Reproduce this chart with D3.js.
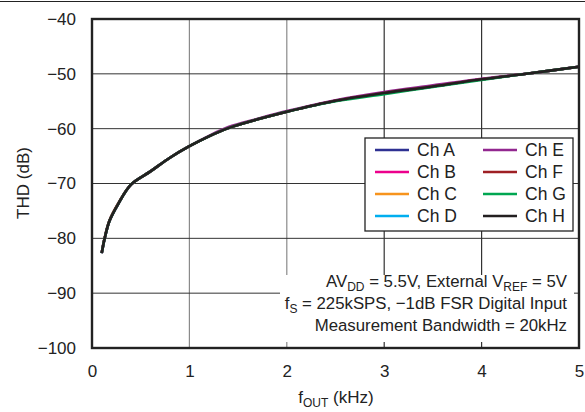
<!DOCTYPE html>
<html>
<head>
<meta charset="utf-8">
<script src="https://cdn.jsdelivr.net/npm/d3@7"></script>
<style>
  body { margin: 0; background: #fff; }
  text { font-family: "Liberation Sans", Arial, sans-serif; fill: #222; }
</style>
</head>
<body>
<svg id="chart" width="585" height="412"></svg>
<script>
// output frequency (kHz)
var freq = [0.1, 0.13, 0.18, 0.27, 0.4, 0.6, 0.8, 1.0, 1.2, 1.4, 1.7, 2.0, 2.5, 3.0, 3.5, 4.0, 4.5, 5.0];

// THD (dB) per channel, all almost on top of each other
var chA = [-82.7, -80.0, -76.8, -73.7, -70.2, -67.8, -65.3, -63.2, -61.4, -59.9, -58.3, -56.9, -54.9, -53.5, -52.3, -51.0, -49.9, -48.7];
var chB = [-82.7, -80.0, -76.8, -73.7, -70.2, -67.8, -65.3, -63.2, -61.4, -59.9, -58.3, -56.9, -54.9, -53.5, -52.3, -51.0, -49.9, -48.7];
var chC = [-82.7, -80.0, -76.8, -73.7, -70.2, -67.8, -65.3, -63.2, -61.4, -59.9, -58.3, -56.9, -54.9, -53.5, -52.3, -51.0, -49.9, -48.7];
var chD = [-82.7, -80.0, -76.8, -73.7, -70.2, -67.8, -65.3, -63.2, -61.4, -59.9, -58.3, -56.9, -54.9, -53.5, -52.3, -51.0, -49.9, -48.7];
var chE = [-82.7, -80.0, -76.8, -73.7, -70.2, -67.8, -65.3, -63.2, -61.3, -59.7, -58.2, -56.8, -54.8, -53.3, -52.1, -50.9, -49.9, -48.7];
var chF = [-82.6, -79.9, -76.7, -73.6, -70.2, -67.8, -65.3, -63.2, -61.4, -59.9, -58.3, -56.9, -54.9, -53.5, -52.3, -51.0, -49.9, -48.7];
var chG = [-82.7, -80.0, -76.8, -73.7, -70.2, -67.8, -65.3, -63.2, -61.4, -59.9, -58.3, -56.9, -55.0, -53.7, -52.4, -51.1, -49.9, -48.7];
var chH = [-82.7, -80.0, -76.8, -73.7, -70.2, -67.8, -65.3, -63.2, -61.4, -59.9, -58.3, -56.9, -54.9, -53.5, -52.3, -51.0, -49.9, -48.7];

var channels = ["Ch A", "Ch B", "Ch C", "Ch D", "Ch E", "Ch F", "Ch G", "Ch H"];
var channelData = [chA, chB, chC, chD, chE, chF, chG, chH];
var colors = ["#2e3192", "#ec008c", "#f7941d", "#00aeef", "#92278f", "#9e1f24", "#00a651", "#231f20"];

var xTicks = [0, 1, 2, 3, 4, 5];
var yTicks = [-100, -90, -80, -70, -60, -50, -40];

var svg = d3.select("#chart"),
    margin = {top: 19, right: 6, bottom: 64, left: 92},
    width = 585 - margin.left - margin.right,
    height = 412 - margin.top - margin.bottom,
    g = svg.append("g").attr("transform", "translate(" + margin.left + "," + margin.top + ")");

// thin rule across the very top of the page
svg.append("line")
    .attr("x1", 0).attr("x2", 585).attr("y1", 1.5).attr("y2", 1.5)
    .attr("stroke", "#222").attr("stroke-width", 1.2);

var x = d3.scaleLinear().domain([0, 5]).range([0, width]),
    y = d3.scaleLinear().domain([-100, -40]).range([height, 0]);

// grid
g.append("g")
  .selectAll("line")
  .data(xTicks.slice(1, -1))
  .enter().append("line")
    .attr("x1", function(d) { return x(d); })
    .attr("x2", function(d) { return x(d); })
    .attr("y1", 0).attr("y2", height)
    .attr("stroke", function(d) { return d < 3 ? "#8a8a8a" : "#333"; })
    .attr("stroke-width", 1.2);

g.append("g")
  .selectAll("line")
  .data(yTicks.slice(1, -1))
  .enter().append("line")
    .attr("x1", 0).attr("x2", width)
    .attr("y1", function(d) { return y(d); })
    .attr("y2", function(d) { return y(d); })
    .attr("stroke", "#333")
    .attr("stroke-width", 1);

// axes (labels only, frame drawn separately)
var xAxis = g.append("g")
    .attr("transform", "translate(0," + height + ")")
    .call(d3.axisBottom(x).tickValues(xTicks).tickSize(0).tickPadding(17).tickFormat(d3.format("d")));
var yAxis = g.append("g")
    .call(d3.axisLeft(y).tickValues(yTicks).tickSize(0).tickPadding(16)
      .tickFormat(function(d) { return d3.format("d")(d).replace("-", "\u2212"); }));
[xAxis, yAxis].forEach(function(a) {
  a.select(".domain").remove();
  a.selectAll("text").attr("font-size", 17).attr("font-family", "Liberation Sans, Arial, sans-serif").attr("fill", "#222");
});

// curves
var line = d3.line()
    .curve(d3.curveCatmullRom.alpha(0.5))
    .x(function(d) { return x(d[0]); })
    .y(function(d) { return y(d[1]); });

g.append("g")
  .selectAll("path")
  .data(channelData)
  .enter().append("path")
    .attr("fill", "none")
    .attr("stroke", function(d, i) { return colors[i]; })
    .attr("stroke-width", 2.6)
    .attr("stroke-linejoin", "round")
    .attr("d", function(d) { return line(freq.map(function(f, j) { return [f, d[j]]; })); });

// annotation box
g.append("rect")
    .attr("x", 188).attr("y", 256).attr("width", 294).attr("height", 67)
    .attr("fill", "#fff");

var note = g.append("g").attr("text-anchor", "end").attr("font-size", 16.8);
var n1 = note.append("text").attr("x", 475).attr("y", 268);
n1.append("tspan").text("AV");
n1.append("tspan").attr("font-size", 12).attr("dy", 4).text("DD");
n1.append("tspan").attr("dy", -4).text(" = 5.5V, External V");
n1.append("tspan").attr("font-size", 12).attr("dy", 4).text("REF");
n1.append("tspan").attr("dy", -4).text(" = 5V");
var n2 = note.append("text").attr("x", 475).attr("y", 290);
n2.append("tspan").text("f");
n2.append("tspan").attr("font-size", 12).attr("dy", 4).text("S");
n2.append("tspan").attr("dy", -4).text(" = 225kSPS, \u22121dB FSR Digital Input");
note.append("text").attr("x", 475).attr("y", 312).text("Measurement Bandwidth = 20kHz");

// legend
var legend = g.append("g");
legend.append("rect")
    .attr("x", 273).attr("y", 119).attr("width", 208).attr("height", 93)
    .attr("fill", "#fff").attr("stroke", "#222").attr("stroke-width", 1.3);

var item = legend.selectAll("g.item")
  .data(channels)
  .enter().append("g")
    .attr("class", "item")
    .attr("transform", function(d, i) {
      return "translate(" + (283 + Math.floor(i / 4) * 108) + "," + (131 + (i % 4) * 22) + ")";
    });
item.append("line")
    .attr("x1", 0).attr("x2", 34).attr("y1", 0).attr("y2", 0)
    .attr("stroke", function(d, i) { return colors[i]; })
    .attr("stroke-width", 2.6);
item.append("text")
    .attr("x", 42).attr("dy", "0.36em")
    .attr("font-size", 17.5)
    .text(function(d) { return d; });

// frame
g.append("rect")
    .attr("x", 0).attr("y", 0).attr("width", width).attr("height", height)
    .attr("fill", "none").attr("stroke", "#222").attr("stroke-width", 2.4);

// axis titles
var xt = svg.append("text")
    .attr("x", 336).attr("y", 403)
    .attr("text-anchor", "middle").attr("font-size", 17);
xt.append("tspan").text("f");
xt.append("tspan").attr("font-size", 12).attr("dy", 4).text("OUT");
xt.append("tspan").attr("dy", -4).text(" (kHz)");

svg.append("text")
    .attr("transform", "translate(29,183) rotate(-90)")
    .attr("text-anchor", "middle").attr("font-size", 17)
    .text("THD (dB)");
</script>
</body>
</html>
